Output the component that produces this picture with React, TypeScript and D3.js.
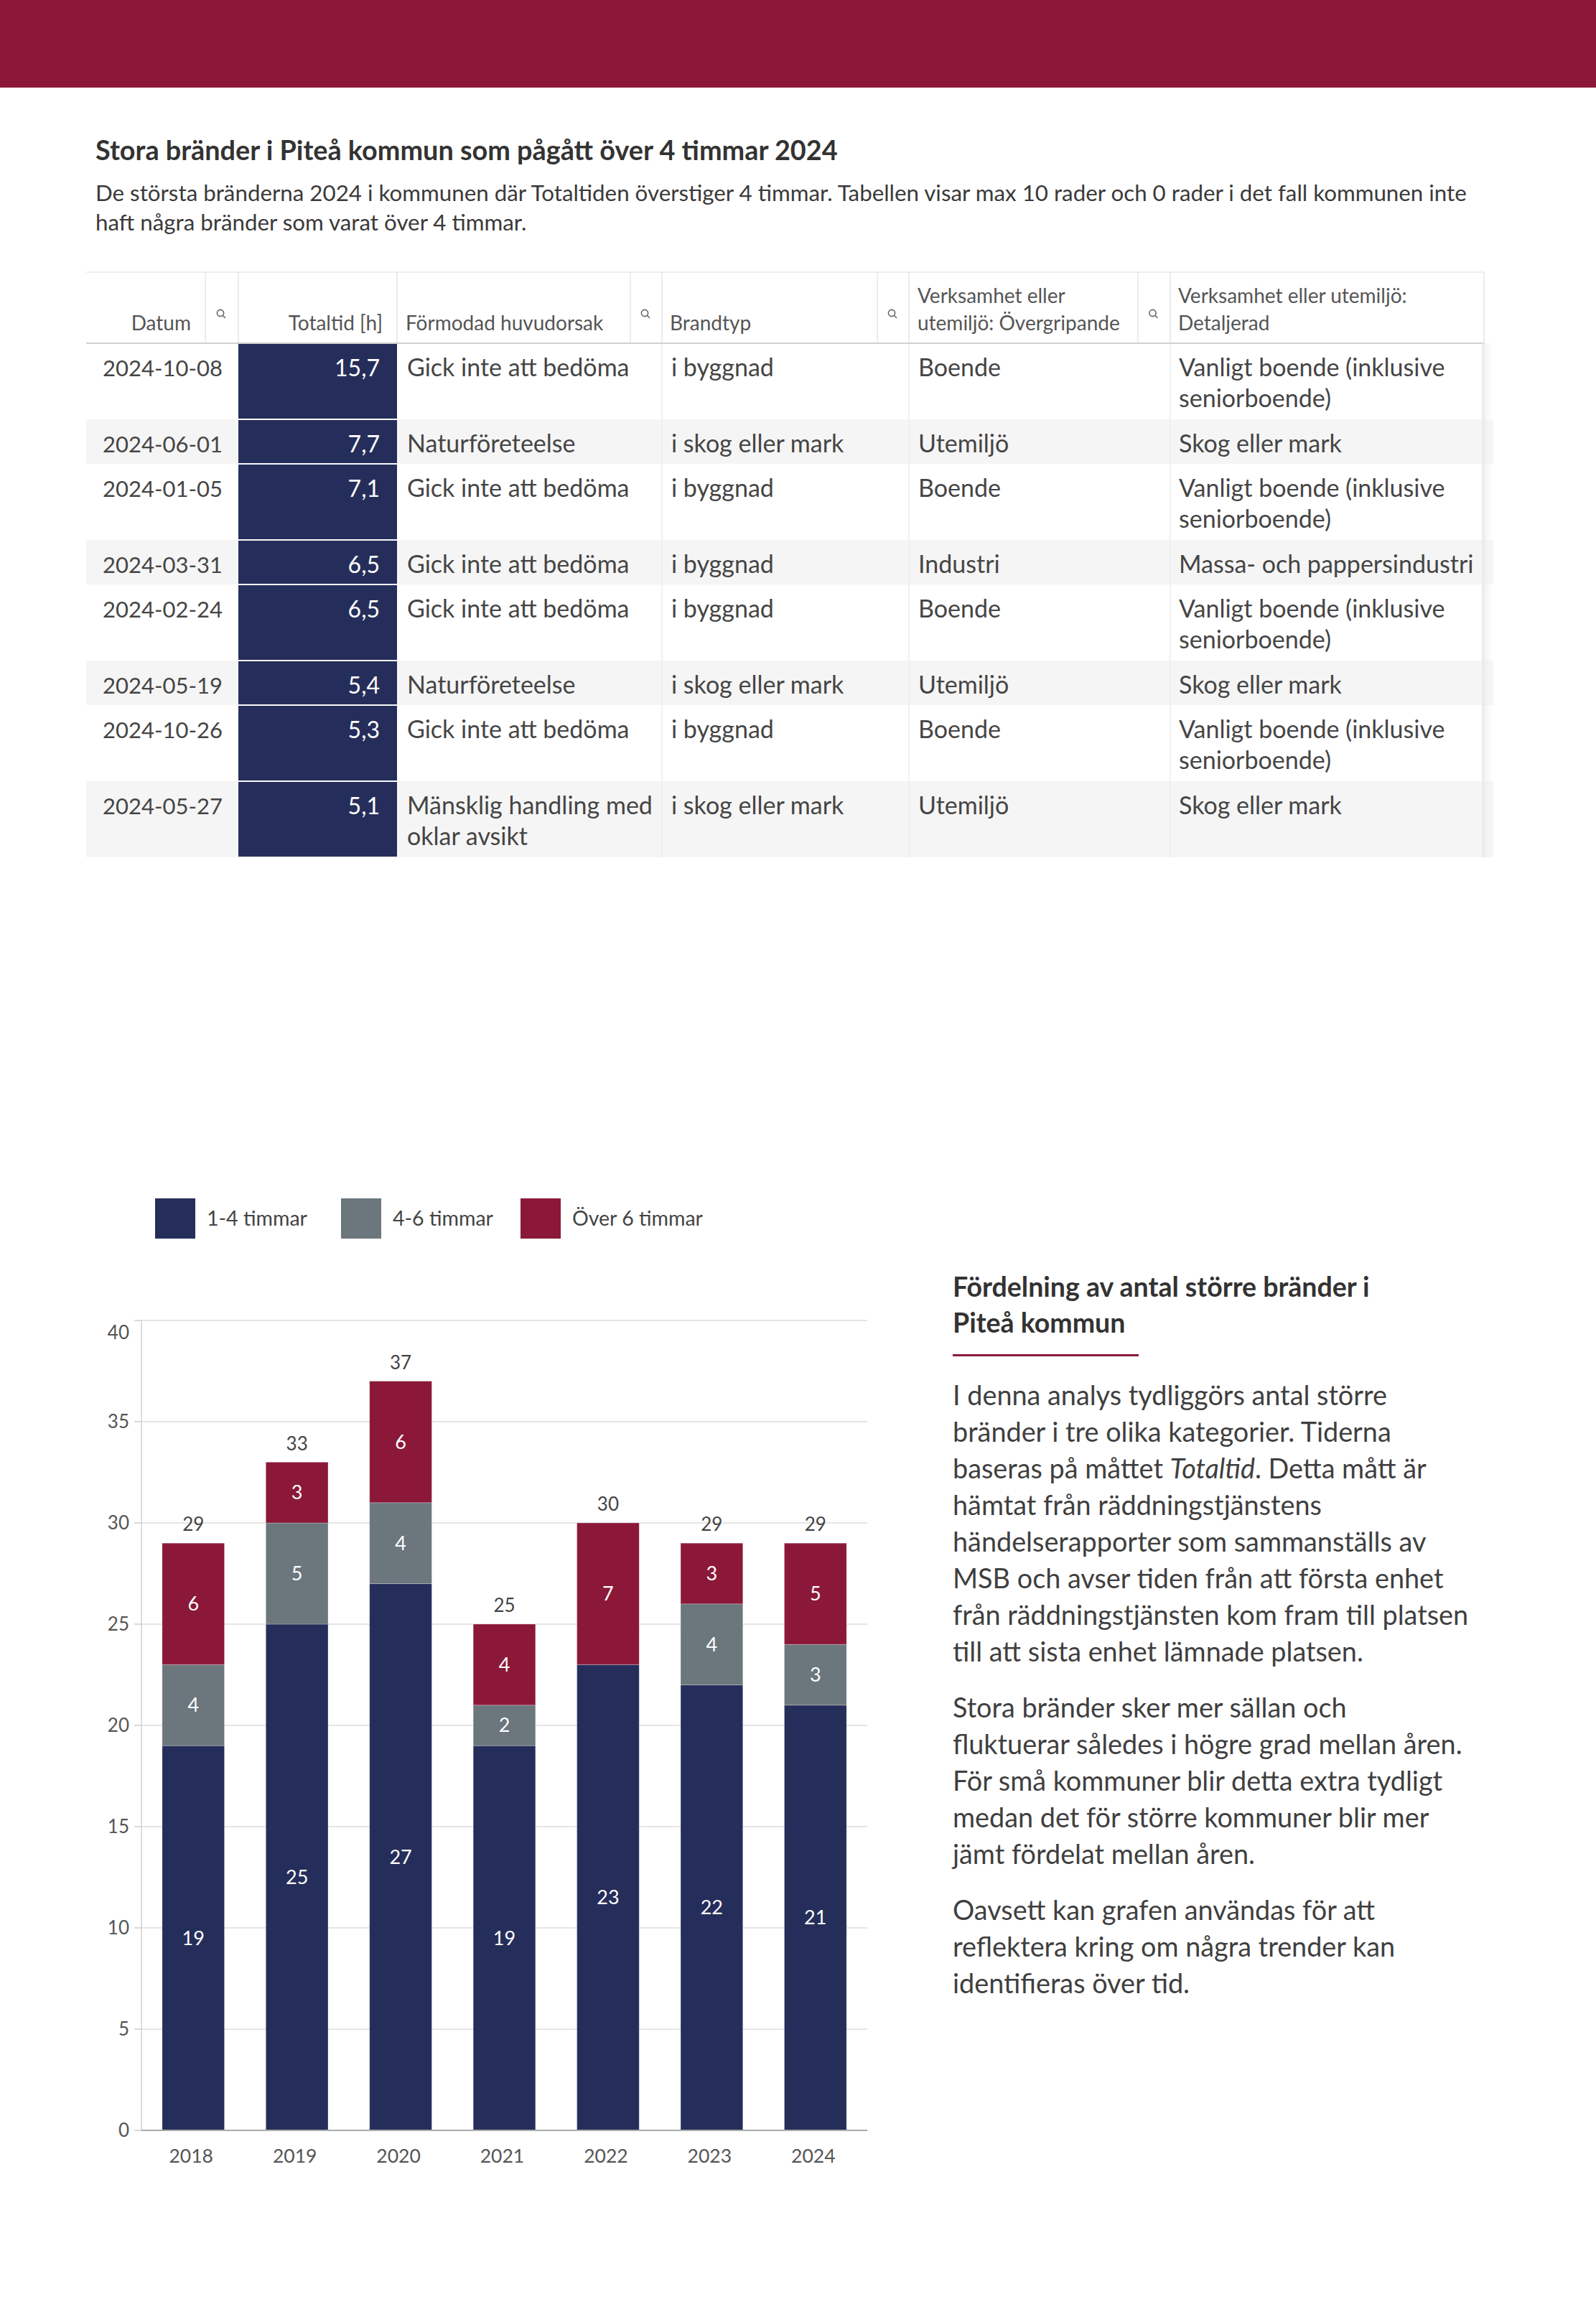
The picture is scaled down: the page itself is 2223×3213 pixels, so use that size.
import React from 'react';
import * as d3 from 'd3';

const W = 2223;
const H = 3213;
const FONT = 'Lato, "Noto Sans", sans-serif';
const NAVY = '#252e5a';
const GREY = '#6b767d';
const CRIMSON = '#8b1838';
const TEXT = '#454545';

// Table data
const dates = ['2024-10-08', '2024-06-01', '2024-01-05', '2024-03-31', '2024-02-24', '2024-05-19', '2024-10-26', '2024-05-27'];
const totals = [15.7, 7.7, 7.1, 6.5, 6.5, 5.4, 5.3, 5.1];
const causes = ['Gick inte att bedöma', 'Naturföreteelse', 'Gick inte att bedöma', 'Gick inte att bedöma', 'Gick inte att bedöma', 'Naturföreteelse', 'Gick inte att bedöma', 'Mänsklig handling med oklar avsikt'];
const fireTypes = ['i byggnad', 'i skog eller mark', 'i byggnad', 'i byggnad', 'i byggnad', 'i skog eller mark', 'i byggnad', 'i skog eller mark'];
const areaMain = ['Boende', 'Utemiljö', 'Boende', 'Industri', 'Boende', 'Utemiljö', 'Boende', 'Utemiljö'];
const areaDetail = ['Vanligt boende (inklusive seniorboende)', 'Skog eller mark', 'Vanligt boende (inklusive seniorboende)', 'Massa- och pappersindustri', 'Vanligt boende (inklusive seniorboende)', 'Skog eller mark', 'Vanligt boende (inklusive seniorboende)', 'Skog eller mark'];
const headerLabels = [['Datum'], ['Totaltid [h]'], ['Förmodad huvudorsak'], ['Brandtyp'], ['Verksamhet eller', 'utemiljö: Övergripande'], ['Verksamhet eller utemiljö:', 'Detaljerad']];

// Chart data
const years = ['2018', '2019', '2020', '2021', '2022', '2023', '2024'];
const hours1to4 = [19, 25, 27, 19, 23, 22, 21];
const hours4to6 = [4, 5, 4, 2, 0, 4, 3];
const hoursOver6 = [6, 3, 6, 4, 7, 3, 5];
const seriesNames = ['1-4 timmar', '4-6 timmar', 'Över 6 timmar'];
const seriesColors = [NAVY, GREY, CRIMSON];
const yTicks = [0, 5, 10, 15, 20, 25, 30, 35, 40];

// Texts
const title = 'Stora bränder i Piteå kommun som pågått över 4 timmar 2024';
const subtitle = [
  'De största bränderna 2024 i kommunen där Totaltiden överstiger 4 timmar. Tabellen visar max 10 rader och 0 rader i det fall kommunen inte',
  'haft några bränder som varat över 4 timmar.',
];
const sideHeading = ['Fördelning av antal större bränder i', 'Piteå kommun'];
const paragraphs = [
  ['I denna analys tydliggörs antal större', 'bränder i tre olika kategorier. Tiderna', 'baseras på måttet *Totaltid*. Detta mått är', 'hämtat från räddningstjänstens', 'händelserapporter som sammanställs av', 'MSB och avser tiden från att första enhet', 'från räddningstjänsten kom fram till platsen', 'till att sista enhet lämnade platsen.'],
  ['Stora bränder sker mer sällan och', 'fluktuerar således i högre grad mellan åren.', 'För små kommuner blir detta extra tydligt', 'medan det för större kommuner blir mer', 'jämt fördelat mellan åren.'],
  ['Oavsett kan grafen användas för att', 'reflektera kring om några trender kan', 'identifieras över tid.'],
];

const sv = d3.formatLocale({ decimal: ',', thousands: '\u00a0', grouping: [3], currency: ['', ' kr'] });
const fmt1 = sv.format('.1f');

const BODY_SIZE = 34;
const ctx = document.createElement('canvas').getContext('2d')!;
function wrap(text: string, maxW: number, size = BODY_SIZE): string[] {
  ctx.font = `${size}px Lato`;
  const words = text.split(' ');
  const lines: string[] = [];
  let cur = '';
  words.forEach(w => {
    const test = cur ? cur + ' ' + w : w;
    if (ctx.measureText(test).width > maxW && cur) {
      lines.push(cur);
      cur = w;
    } else cur = test;
  });
  if (cur) lines.push(cur);
  return lines;
}

// table layout
const cols = [
  { x0: 120, x1: 332, icon: 286, tx: 143, anchor: 'start', hx: 266, hAnchor: 'end', size: 31 },
  { x0: 332, x1: 553, icon: 0, tx: 529, anchor: 'end', hx: 533, hAnchor: 'end', size: 32 },
  { x0: 553, x1: 922, icon: 878, tx: 567, anchor: 'start', hx: 565, hAnchor: 'start', size: BODY_SIZE },
  { x0: 922, x1: 1266, icon: 1222, tx: 935, anchor: 'start', hx: 933, hAnchor: 'start', size: BODY_SIZE },
  { x0: 1266, x1: 1630, icon: 1585, tx: 1279, anchor: 'start', hx: 1278, hAnchor: 'start', size: BODY_SIZE },
  { x0: 1630, x1: 2067, icon: 0, tx: 1642, anchor: 'start', hx: 1641, hAnchor: 'start', size: BODY_SIZE },
];
const TABLE_TOP = 379;
const HEAD_BOTTOM = 478;

function SearchIcon({ cx, cy }: { cx: number; cy: number }) {
  return (
    <g stroke="#666" strokeWidth={1.6} fill="none">
      <circle cx={cx} cy={cy} r={4.6} />
      <line x1={cx + 3.3} y1={cy + 3.3} x2={cx + 7} y2={cy + 7} />
    </g>
  );
}

function Table() {
  const rows = dates.map((d, i) => {
    const cells = [
      [d],
      [fmt1(totals[i])],
      wrap(causes[i], 355),
      wrap(fireTypes[i], 300),
      wrap(areaMain[i], 300),
      wrap(areaDetail[i], 415),
    ];
    const n = d3.max(cells, c => c.length) || 1;
    return { cells, h: 62 + (n - 1) * 44 };
  });
  let y = HEAD_BOTTOM;
  const placed = rows.map(r => {
    const top = y;
    y += r.h;
    return { ...r, top };
  });
  const tableBottom = y;

  return (
    <g fontFamily={FONT}>
      <defs>
        <linearGradient id="edge" x1="0" x2="1" y1="0" y2="0">
          <stop offset="0" stopColor="#e6e6e6" stopOpacity={0.9} />
          <stop offset="1" stopColor="#ffffff" stopOpacity={0} />
        </linearGradient>
      </defs>
      {/* header */}
      <line x1={120} x2={2067} y1={TABLE_TOP} y2={TABLE_TOP} stroke="#eeeeee" strokeWidth={2} />
      {cols.map((c, i) => (
        <g key={i}>
          {i > 0 && <line x1={c.x0} x2={c.x0} y1={TABLE_TOP} y2={HEAD_BOTTOM} stroke="#e4e4e4" strokeWidth={1.5} />}
          {c.icon > 0 && <line x1={c.icon} x2={c.icon} y1={TABLE_TOP} y2={HEAD_BOTTOM} stroke="#e8e8e8" strokeWidth={1.5} />}
          {c.icon > 0 && <SearchIcon cx={(c.icon + c.x1) / 2 - 2} cy={436} />}
          {headerLabels[i].map((t, k) => (
            <text key={k} x={c.hx} y={460 - (headerLabels[i].length - 1 - k) * 38} fontSize={28} fill="#555" textAnchor={c.hAnchor}>
              {t}
            </text>
          ))}
        </g>
      ))}
      <line x1={2067} x2={2067} y1={TABLE_TOP} y2={HEAD_BOTTOM} stroke="#e4e4e4" strokeWidth={1.5} />

      {/* body */}
      {placed.map((r, i) => (
        <g key={i}>
          <rect x={120} y={r.top} width={1960} height={r.h} fill={i % 2 === 1 ? '#f5f5f5' : '#ffffff'} />
          <rect x={332} y={r.top + 1} width={221} height={r.h - 2} fill={NAVY} />
          {r.cells.map((lines, c) => (
            <text key={c} fontSize={cols[c].size} fill={c === 1 ? '#ffffff' : TEXT} textAnchor={cols[c].anchor}>
              {lines.map((l, k) => (
                <tspan key={k} x={cols[c].tx} y={r.top + 46 + k * 43}>{l}</tspan>
              ))}
            </text>
          ))}
        </g>
      ))}
      {[922, 1266, 1630].map(x => (
        <line key={x} x1={x} x2={x} y1={HEAD_BOTTOM} y2={tableBottom} stroke="#ececec" strokeWidth={1.5} />
      ))}
      <line x1={120} x2={2067} y1={HEAD_BOTTOM} y2={HEAD_BOTTOM} stroke="#d0d0d0" strokeWidth={2} />
      <rect x={2064} y={HEAD_BOTTOM} width={18} height={tableBottom - HEAD_BOTTOM} fill="url(#edge)" />
    </g>
  );
}

function Chart() {
  const x = d3.scaleBand<string>().domain(years).range([197, 1208]).paddingInner(0.4).paddingOuter(0.2);
  const y = d3.scaleLinear().domain([0, 40]).range([2967, 1839]);
  const rows = years.map((yr, i) => ({ year: yr, a: hours1to4[i], b: hours4to6[i], c: hoursOver6[i] }));
  const stack = d3.stack<any>().keys(['a', 'b', 'c'])(rows);
  const totalsByYear = rows.map(r => r.a + r.b + r.c);
  const legendX = [216, 475, 725];

  return (
    <g fontFamily={FONT}>
      {/* legend */}
      {seriesNames.map((s, i) => (
        <g key={s}>
          <rect x={legendX[i]} y={1669} width={56} height={56} fill={seriesColors[i]} />
          <text x={legendX[i] + 72} y={1707} fontSize={28.5} fill="#444">{s}</text>
        </g>
      ))}
      {/* grid */}
      {yTicks.map(t => (
        <g key={t}>
          {t > 0 && <line x1={197} x2={1208} y1={y(t)} y2={y(t)} stroke="#dcdcdc" strokeWidth={1.5} />}
          <line x1={187} x2={197} y1={y(t)} y2={y(t)} stroke="#cccccc" strokeWidth={1.5} />
          <text x={180} y={t === 40 ? y(t) + 17 : y(t)} dy="0.35em" fontSize={26} fill="#555" textAnchor="end">{t}</text>
        </g>
      ))}
      <line x1={197} x2={197} y1={y(40)} y2={y(0)} stroke="#d0d0d0" strokeWidth={1.5} />
      {/* bars */}
      {stack.map((layer, li) => (
        <g key={li}>
          {layer.map((d, i) => {
            const v = d[1] - d[0];
            if (v <= 0) return null;
            return (
              <g key={i}>
                <rect x={x(years[i])} y={y(d[1])} width={x.bandwidth()} height={y(d[0]) - y(d[1])} fill={seriesColors[li]} stroke="rgba(255,255,255,0.25)" strokeWidth={1} />
                <text x={(x(years[i]) || 0) + x.bandwidth() / 2} y={y((d[0] + d[1]) / 2)} dy="0.35em" fontSize={27} fill="#ffffff" textAnchor="middle">{v}</text>
              </g>
            );
          })}
        </g>
      ))}
      {totalsByYear.map((t, i) => (
        <text key={i} x={(x(years[i]) || 0) + x.bandwidth() / 2} y={y(t) - 26} dy="0.35em" fontSize={26} fill="#444" textAnchor="middle">{t}</text>
      ))}
      <line x1={197} x2={1208} y1={y(0)} y2={y(0)} stroke="#aaaaaa" strokeWidth={2} />
      {years.map(yr => (
        <text key={yr} x={(x(yr) || 0) + x.bandwidth() / 2 - 3} y={3003} dy="0.35em" fontSize={26.5} fill="#555" textAnchor="middle">{yr}</text>
      ))}
    </g>
  );
}

function SidePanel() {
  const paraStarts = [1957, 2392, 2674];
  return (
    <g fontFamily={FONT} fill="#3f3f3f">
      {sideHeading.map((t, i) => (
        <text key={i} x={1327} y={1806 + i * 50} fontSize={37.5} fontWeight={700} fill="#333">{t}</text>
      ))}
      <rect x={1327} y={1886} width={259} height={3} fill={CRIMSON} />
      {paragraphs.map((p, pi) => (
        <g key={pi}>
          {p.map((line, li) => {
            const parts = line.split('*');
            return (
              <text key={li} x={1327} y={paraStarts[pi] + li * 51} fontSize={37.8}>
                {parts.map((s, k) => (
                  <tspan key={k} fontStyle={k % 2 === 1 ? 'italic' : 'normal'}>{s}</tspan>
                ))}
              </text>
            );
          })}
        </g>
      ))}
    </g>
  );
}

export default function App() {
  return (
    <svg width={W} height={H} style={{ position: 'absolute', left: 0, top: 0, background: '#fff' }}>
      <rect x={0} y={0} width={W} height={H} fill="#ffffff" />
      <rect x={0} y={0} width={W} height={122} fill={CRIMSON} />
      <text x={133} y={223} fontFamily={FONT} fontSize={37.8} fontWeight={700} fill="#333">{title}</text>
      {subtitle.map((s, i) => (
        <text key={i} x={133} y={280 + i * 41} fontFamily={FONT} fontSize={31.3} fill="#3a3a3a">{s}</text>
      ))}
      <Table />
      <Chart />
      <SidePanel />
    </svg>
  );
}
